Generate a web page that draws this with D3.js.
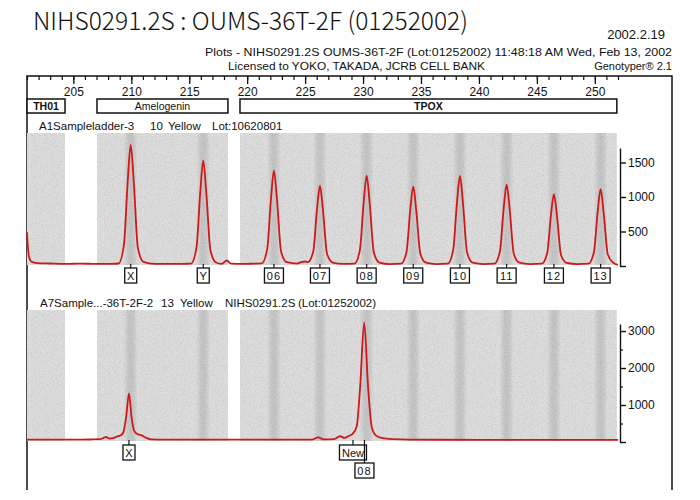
<!DOCTYPE html>
<html>
<head>
<meta charset="utf-8">
<script src="https://cdn.jsdelivr.net/npm/d3@7.9.0/dist/d3.min.js"></script>
<style>
  body { margin: 0; background: #fff; }
  svg { display: block; }
  text { font-family: "Liberation Sans", Arial, sans-serif; fill: #111; }
</style>
</head>
<body>
<div id="chart"></div>
<script>
// size ruler (bp) and the three marker bins
const rulerLabels = [205, 210, 215, 220, 225, 230, 235, 240, 245, 250];
const binNames = ["TH01", "Amelogenin", "TPOX"];
const binStarts = [201, 207.04, 219.38];
const binEnds = [204.28, 218.34, 251.9];

// allele positions (bp) used for the darker bands and ladder calls
const alleleNames = ["X", "Y", "06", "07", "08", "09", "10", "11", "12", "13"];
const alleleSizes = [209.95, 216.21, 222.31, 226.28, 230.31, 234.33, 238.36, 242.39, 246.47, 250.5];

// panel 1 : A1Sampleladder-3, [bp, RFU]
const ladderTrace = [
  [201.0, 490], [201.08, 270], [201.18, 130], [201.4, 62], [201.9, 42], [203, 36], [204.5, 30],
  [205.5, 35], [207, 30], [208.2, 32],
  [208.9, 36], [209.37, 316], [209.69, 1228], [209.95, 1754], [210.21, 1228], [210.57, 263], [211.05, 60],
  [212, 30], [213.5, 30], [214.6, 32],
  [215.16, 35], [215.63, 275], [215.95, 1068], [216.21, 1526], [216.47, 1068], [216.83, 229], [217.31, 50],
  [217.8, 30], [218.25, 80], [218.6, 35], [219.6, 30], [220.6, 35],
  [221.26, 38], [221.73, 249], [222.05, 967], [222.31, 1381], [222.57, 967], [222.93, 207], [223.41, 55],
  [224.3, 35], [224.75, 60], [225.0, 65],
  [225.23, 55], [225.7, 209], [226.02, 811], [226.28, 1159], [226.54, 811], [226.9, 174], [227.38, 50],
  [228.3, 30],
  [229.26, 35], [229.73, 236], [230.05, 916], [230.31, 1309], [230.57, 916], [230.93, 196], [231.41, 50],
  [232.3, 28],
  [233.28, 33], [233.75, 207], [234.07, 804], [234.33, 1149], [234.59, 804], [234.95, 172], [235.43, 48],
  [236.3, 28],
  [237.31, 33], [237.78, 235], [238.1, 913], [238.36, 1304], [238.62, 913], [238.98, 196], [239.46, 48],
  [240.4, 28],
  [241.34, 33], [241.81, 212], [242.13, 825], [242.39, 1178], [242.65, 825], [243.01, 177], [243.49, 48],
  [244.4, 28],
  [245.42, 33], [245.89, 188], [246.21, 730], [246.47, 1043], [246.73, 730], [247.09, 156], [247.57, 45],
  [248.5, 28],
  [249.45, 33], [249.92, 200], [250.24, 778], [250.5, 1112], [250.76, 778], [251.12, 167], [251.6, 45],
  [252.0, 15]
];

// panel 2 : A7Sample...-36T-2F-2, [bp, RFU]
const sampleTrace = [
  [201, 62], [203, 62], [205, 62], [206.5, 68], [207.3, 75], [207.6, 110], [207.82, 135], [208.1, 95],
  [208.5, 110], [208.77, 150], [209.05, 175], [209.3, 250], [209.55, 660], [209.8, 1312], [210.03, 650],
  [210.25, 300], [210.5, 215], [210.9, 180], [211.3, 110], [211.7, 70], [213, 65], [216, 65], [219, 62],
  [222, 62], [224, 65], [225.6, 65], [226.11, 125], [226.6, 70], [227.5, 80], [228.0, 155], [228.4, 110],
  [228.8, 170], [229.1, 220], [229.45, 420], [229.75, 1500], [230.1, 3225], [230.43, 1500], [230.75, 400],
  [231.1, 180], [231.6, 110], [232.5, 75], [234, 62], [240, 60], [246, 58], [252, 55]
];

const ladderTicks = [0, 500, 1000, 1500];
const sampleTicks = [0, 1000, 2000, 3000];
const sampleMinorTicks = [500, 1500, 2500];

const sampleCallNames = ["X", "New", "08"];
const sampleCallSizes = [209.8, 229.13, 230.12];
const sampleCallRows = [0, 0, 1];

const width = 700, height = 500;
const frame = { left: 27, right: 672, top: 76, bottom: 490 };

const x = d3.scaleLinear().domain([201, 252]).range([27, 618]);
const ladderY = d3.scaleLinear().domain([0, 1710]).range([266, 148]);
const sampleY = d3.scaleLinear().domain([0, 3190]).range([442, 324]);

const svg = d3.select("#chart").append("svg")
  .attr("width", width).attr("height", height)
  .attr("viewBox", `0 0 ${width} ${height}`);

const defs = svg.append("defs");
const grain = defs.append("filter").attr("id", "grain")
  .attr("x", 0).attr("y", 0).attr("width", 1).attr("height", 1);
grain.append("feTurbulence").attr("type", "fractalNoise")
  .attr("baseFrequency", 1.1).attr("numOctaves", 2).attr("seed", 4).attr("result", "n");
grain.append("feColorMatrix").attr("in", "n").attr("type", "matrix")
  .attr("values", "0 0 0 0 0.5  0 0 0 0 0.5  0 0 0 0 0.5  1.3 0 0 0 -0.52").attr("result", "a");
grain.append("feComposite").attr("in", "a").attr("in2", "SourceGraphic").attr("operator", "in");

const band = defs.append("linearGradient").attr("id", "band");
[[0, 0], [0.3, 0.09], [0.5, 0.11], [0.7, 0.09], [1, 0]].forEach(([o, a]) =>
  band.append("stop").attr("offset", o).attr("stop-color", "#000").attr("stop-opacity", a));

// ---- header texts
svg.append("text").attr("x", 33).attr("y", 30)
  .style("font-family", '"Noto Sans CJK JP", "DejaVu Sans", sans-serif')
  .style("font-size", "25px").style("font-weight", 300)
  .attr("textLength", 435).attr("lengthAdjust", "spacingAndGlyphs")
  .text("NIHS0291.2S : OUMS-36T-2F (01252002)");
svg.append("text").attr("x", 665).attr("y", 39).attr("text-anchor", "end")
  .style("font-size", "13px").text("2002.2.19");
svg.append("text").attr("x", 205).attr("y", 56)
  .style("font-size", "11px")
  .attr("textLength", 467).attr("lengthAdjust", "spacingAndGlyphs")
  .text("Plots - NIHS0291.2S  OUMS-36T-2F  (Lot:01252002)  11:48:18 AM  Wed, Feb 13, 2002");
svg.append("text").attr("x", 228).attr("y", 70)
  .style("font-size", "11px")
  .attr("textLength", 257).attr("lengthAdjust", "spacingAndGlyphs")
  .text("Licensed to YOKO, TAKADA, JCRB CELL BANK");
svg.append("text").attr("x", 672).attr("y", 70).attr("text-anchor", "end")
  .style("font-size", "11px").text("Genotyper® 2.1");

// ---- frame
svg.append("path")
  .attr("d", `M${frame.left},${frame.bottom}V${frame.top}H${frame.right}V${frame.bottom}`)
  .attr("fill", "none").attr("stroke", "#111").attr("stroke-width", 1.5);

// ---- ruler
svg.append("g").attr("transform", `translate(0,${frame.top})`)
  .call(d3.axisBottom(x).tickValues(d3.range(201, 253)).tickSize(4).tickSizeOuter(0).tickFormat(""))
  .call(g => g.select(".domain").remove())
  .call(g => g.selectAll("line").attr("stroke", "#111").attr("stroke-width", 1.2));
svg.append("g").attr("transform", `translate(0,${frame.top})`)
  .call(d3.axisBottom(x).tickValues(rulerLabels).tickSize(8).tickSizeOuter(0).tickPadding(3))
  .call(g => g.select(".domain").remove())
  .call(g => g.selectAll("line").attr("stroke", "#111").attr("stroke-width", 1.3))
  .call(g => g.selectAll("text").style("font-size", "12px").attr("fill", "#111"));

// ---- bin boxes
const bins = svg.append("g");
binNames.forEach((name, i) => {
  const x0 = x(binStarts[i]), x1 = x(binEnds[i]);
  bins.append("rect").attr("x", x0).attr("y", 99).attr("width", x1 - x0).attr("height", 14)
    .attr("fill", "#fff").attr("stroke", "#111").attr("stroke-width", 1.5);
  bins.append("text").attr("x", (x0 + x1) / 2).attr("y", 110).attr("text-anchor", "middle")
    .style("font-size", "10.5px").style("font-weight", name === "Amelogenin" ? 400 : 700)
    .text(name);
});

// ---- panels
function drawPanel(y, top, bottom, trace, ticks, minor, labelParts) {
  const g = svg.append("g");
  binNames.forEach((name, i) => {
    const x0 = x(binStarts[i]), x1 = x(binEnds[i]);
    g.append("rect").attr("x", x0).attr("y", top).attr("width", x1 - x0).attr("height", bottom - top)
      .attr("fill", "#dedede");
    g.append("rect").attr("x", x0).attr("y", top).attr("width", x1 - x0).attr("height", bottom - top)
      .attr("fill", "#000").attr("filter", "url(#grain)");
  });
  g.selectAll(".band").data(alleleSizes).join("rect")
    .attr("x", d => x(d - 0.6)).attr("width", d => x(d + 0.6) - x(d - 0.6))
    .attr("y", top).attr("height", bottom - top)
    .attr("fill", "url(#band)");

  labelParts.forEach(([t, px]) => {
    g.append("text").attr("x", px).attr("y", top - 3).style("font-size", "11.5px").text(t);
  });

  g.append("path").datum(trace)
    .attr("d", d3.line().x(d => x(d[0])).y(d => y(d[1])).curve(d3.curveMonotoneX))
    .attr("fill", "none").attr("stroke", "#d01818").attr("stroke-width", 1.8)
    .attr("stroke-linejoin", "round");

  const ax = g.append("g").attr("transform", "translate(620,0)")
    .call(d3.axisRight(y).tickValues(ticks).tickSize(6).tickSizeOuter(0).tickPadding(2)
      .tickFormat(d => d ? d : ""));
  ax.selectAll("line, path").attr("stroke", "#111").attr("stroke-width", 1.4);
  ax.selectAll("text").style("font-size", "12px").attr("fill", "#111");
  if (minor) {
    g.append("g").attr("transform", "translate(620,0)")
      .call(d3.axisRight(y).tickValues(minor).tickSize(3).tickFormat(""))
      .call(a => a.select(".domain").remove())
      .call(a => a.selectAll("line").attr("stroke", "#111").attr("stroke-width", 1.2));
  }
  return g;
}

function callBox(g, label, cx, yTop, tickTop) {
  const w = label.length === 1 ? 12 : label.length === 2 ? 19 : 27;
  g.append("line").attr("x1", cx).attr("x2", cx).attr("y1", tickTop).attr("y2", yTop)
    .attr("stroke", "#111").attr("stroke-width", 1.2);
  g.append("rect").attr("x", cx - w / 2).attr("y", yTop).attr("width", w).attr("height", 15)
    .attr("fill", "#fff").attr("stroke", "#111").attr("stroke-width", 1.3);
  g.append("text").attr("x", cx).attr("y", yTop + 11.5).attr("text-anchor", "middle")
    .style("font-size", "11px").style("letter-spacing", label.length === 2 ? "1px" : "0px")
    .text(label);
}

const p1 = drawPanel(ladderY, 133, 265, ladderTrace, ladderTicks, null,
  [["A1Sampleladder-3", 39], ["10", 150], ["Yellow", 168], ["Lot:10620801", 212]]);
alleleNames.forEach((name, i) => callBox(p1, name, x(alleleSizes[i]), 268, 264));

const p2 = drawPanel(sampleY, 310, 441, sampleTrace, sampleTicks, sampleMinorTicks,
  [["A7Sample...-36T-2F-2", 40], ["13", 161], ["Yellow", 180], ["NIHS0291.2S", 225], ["(Lot:01252002)", 298]]);
sampleCallNames.forEach((name, i) => {
  const cx = x(sampleCallSizes[i]);
  if (sampleCallRows[i] === 0) callBox(p2, name, cx, 445, 440);
  else callBox(p2, name, cx, 463, 440);
});
</script>
</body>
</html>
